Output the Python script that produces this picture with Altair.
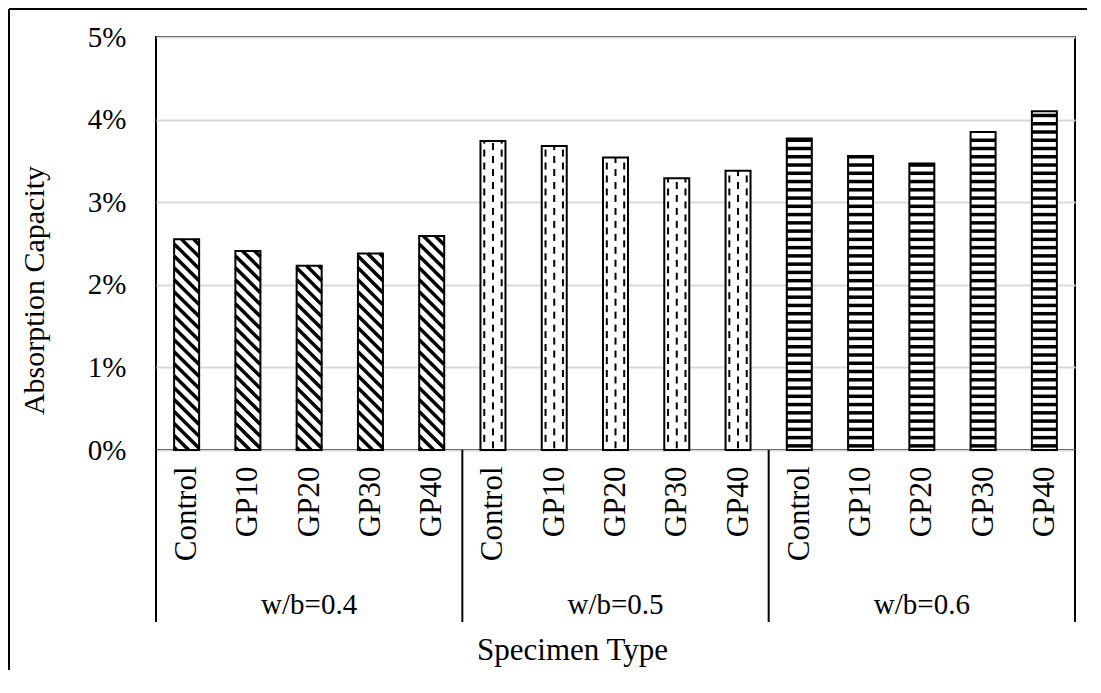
import json
import altair as alt
import pandas as pd

# ---- data ----
groups = ["w/b=0.4", "w/b=0.5", "w/b=0.6"]
specimens = ["Control", "GP10", "GP20", "GP30", "GP40"]
vals_04 = [2.55, 2.41, 2.23, 2.38, 2.59]
vals_05 = [3.74, 3.68, 3.54, 3.29, 3.38]
vals_06 = [3.77, 3.56, 3.47, 3.85, 4.10]
y_ticks = [0, 1, 2, 3, 4, 5]

series = [vals_04, vals_05, vals_06]
rows = []
for g, (gname, vals) in enumerate(zip(groups, series)):
    for s, (sname, v) in enumerate(zip(specimens, vals)):
        rows.append({"idx": g * len(specimens) + s, "group": gname, "pat": g,
                     "specimen": sname, "value": v})
df = pd.DataFrame(rows)
n = len(df)

# group label / separator tables derived from the data
glab = df.groupby("group", as_index=False).agg(center=("idx", "mean"), lo=("idx", "min"), hi=("idx", "max"))
bounds = sorted(set([r - 0.5 for r in glab["lo"]] + [r + 0.5 for r in glab["hi"]]))
sep = pd.DataFrame({"b": bounds})

FONT = "Liberation Serif, Times New Roman, serif"
FS = 29
H = 0.204  # half bar width (in category units)
W = 2 * H

xscale = alt.Scale(domain=[-0.5, n - 0.5], nice=False, zero=False)
yscale = alt.Scale(domain=[0, 5], nice=False)

label_arr = json.dumps(specimens)

x_axis = alt.Axis(
    values=list(range(n)), labelExpr=f"{label_arr}[datum.value % {len(specimens)}]",
    grid=False, ticks=False, domain=False, labelAngle=270, labelAlign="right",
    labelBaseline="middle", labelPadding=16, labelFont=FONT, labelFontSize=31,
    labelColor="black", labelOverlap=False, labelFlush=False, labelBound=False,
    title="Specimen Type", titleFont=FONT, titleFontSize=31, titleFontWeight="normal",
    titleColor="black", titleX=416, titleY=200, titleAlign="center", titleBaseline="middle",
)
y_axis = alt.Axis(
    values=y_ticks, labelExpr="datum.value + '%'", grid=True, gridColor="#d9d9d9",
    gridWidth=2, ticks=False, domain=False, labelPadding=30, labelFont=FONT,
    labelFontSize=FS, labelColor="black",
    title="Absorption Capacity", titleFont=FONT, titleFontSize=30, titleFontWeight="normal",
    titleColor="black", titleX=-122, titleY=253, titleAlign="center", titleBaseline="middle",
)


def X(f):
    return alt.X(f, scale=xscale, axis=x_axis)


def Y(f):
    return alt.Y(f, scale=yscale, axis=y_axis)


base = alt.Chart(df).transform_calculate(
    xl=f"datum.idx - {H}", xr=f"datum.idx + {H}", y0="0"
)

bg = base.mark_rect(fill="white").encode(
    x=X("xl:Q"), x2="xr:Q", y=Y("y0:Q"), y2="value:Q",
)

# diagonal hatch "\" for w/b=0.4
S = 0.30
P = 0.145
diag = base.transform_filter("datum.pat == 0").transform_calculate(
    c=f"sequence(0.03, datum.value + {S}, {P})"
).transform_flatten(["c"]).transform_calculate(
    xs=f"datum.c > datum.value ? datum.xl + (datum.c - datum.value) / {S} * {W} : datum.xl",
    ys="datum.c > datum.value ? datum.value : datum.c",
    xe=f"datum.c - {S} < 0 ? datum.xl + datum.c / {S} * {W} : datum.xr",
    ye=f"datum.c - {S} < 0 ? 0 : datum.c - {S}",
).mark_rule(color="black", strokeWidth=3.5).encode(
    x=X("xs:Q"), x2="xe:Q", y=Y("ys:Q"), y2="ye:Q",
)

# dashed vertical columns for w/b=0.5
DP = 0.157
DL = 0.085
CS = 0.142
dash = base.transform_filter("datum.pat == 1").transform_calculate(
    col="[-1, 0, 1]"
).transform_flatten(["col"]).transform_calculate(
    k=f"sequence(datum.col == 0 ? 0.02 : 0.02 + {DP / 2}, datum.value, {DP})"
).transform_flatten(["k"]).transform_calculate(
    xc=f"datum.idx + datum.col * {CS}",
    k2=f"min(datum.k + {DL}, datum.value)",
).mark_rule(color="black", strokeWidth=2).encode(
    x=X("xc:Q"), y=Y("k:Q"), y2="k2:Q",
)

# horizontal stripes for w/b=0.6
hstripe = base.transform_filter("datum.pat == 2").transform_calculate(
    k="sequence(0.05, datum.value, 0.1)"
).transform_flatten(["k"]).mark_rule(color="black", strokeWidth=3.5).encode(
    x=X("xl:Q"), x2="xr:Q", y=Y("k:Q"),
)

outline = base.mark_rect(fillOpacity=0, stroke="black", strokeWidth=2).encode(
    x=X("xl:Q"), x2="xr:Q", y=Y("y0:Q"), y2="value:Q",
)

seps = alt.Chart(sep).mark_rule(color="black", strokeWidth=2).encode(
    x=X("b:Q"), y=alt.value(413), y2=alt.value(585),
)

glabels = alt.Chart(glab).mark_text(font=FONT, fontSize=FS, color="black",
                                     baseline="middle", align="center").encode(
    x=X("center:Q"), y=alt.value(568), text="group:N",
)

border_left = alt.Chart(sep).mark_rule(color="black", strokeWidth=2).encode(
    x=alt.value(-147), y=alt.value(-28), y2=alt.value(800)
)
border_top = alt.Chart(sep).mark_rule(color="black", strokeWidth=2).encode(
    x=alt.value(-147), x2=alt.value(1200), y=alt.value(-28)
)

chart = alt.layer(
    bg, diag, dash, hstripe, outline, seps, glabels, border_left, border_top
).properties(
    width=919, height=413,
    autosize=alt.AutoSizeParams(type="none"),
    padding={"left": 148, "top": 29, "right": 12, "bottom": 220},
).configure(font=FONT).configure_view(
    stroke="black", strokeWidth=2
)

chart.save("out.html", embed_options={"renderer": "svg", "actions": False})
